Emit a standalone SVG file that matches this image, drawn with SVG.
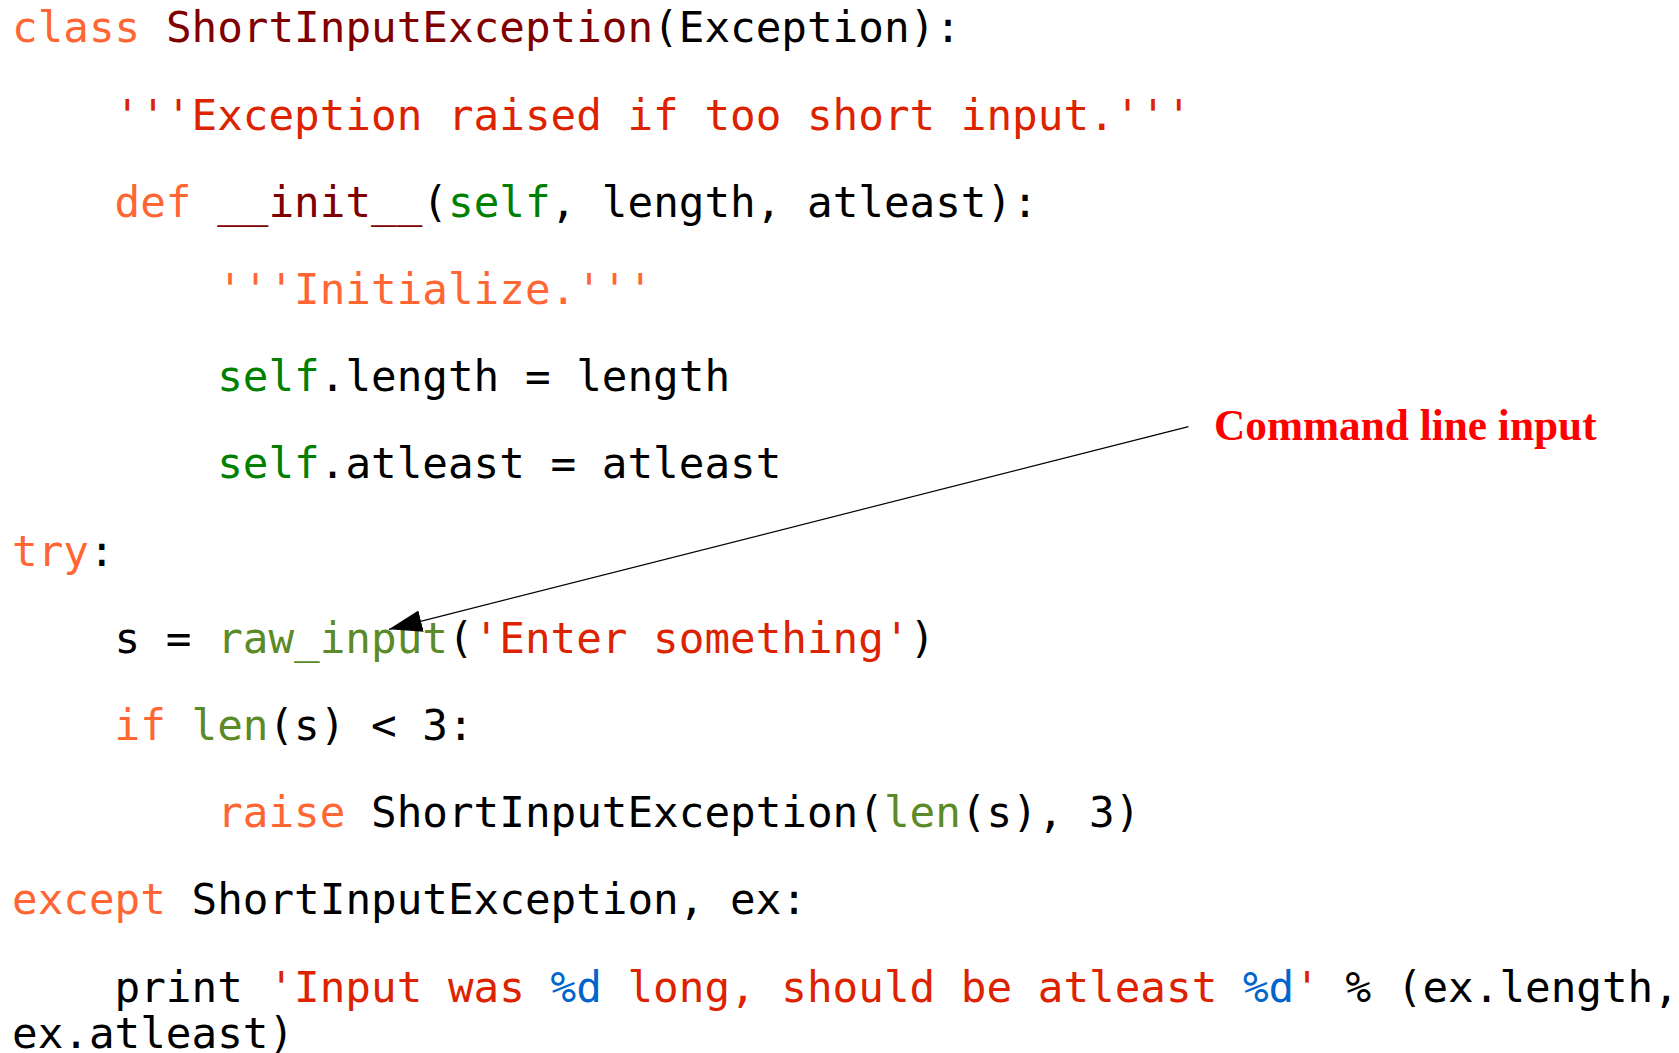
<svg xmlns="http://www.w3.org/2000/svg" width="1679" height="1053" viewBox="0 0 1679 1053">
<style>
.code{font-family:"DejaVu Sans Mono",monospace;font-size:42.6px;fill:#000;white-space:pre}
.kw{fill:#ff6633}
.cls{fill:#800000}
.str{fill:#dd2200}
.self{fill:#008000}
.fn{fill:#5b8a27}
.fmt{fill:#0066cc}
.label{font-family:"Liberation Serif",serif;font-weight:bold;font-size:43.3px;fill:#ff0000}
</style>
<defs>
<marker id="ah" viewBox="0 0 33 22" refX="33" refY="11" markerWidth="33" markerHeight="22" markerUnits="userSpaceOnUse" orient="auto">
<path d="M0,0 L33,11 L0,22 z" fill="#000"/>
</marker>
</defs>
<rect width="1679" height="1053" fill="#fff"/>
<g id="code">
<text class="code" xml:space="preserve" x="12" y="42.3"><tspan class="kw">class</tspan> <tspan class="cls">ShortInputException</tspan>(Exception):</text>
<text class="code" xml:space="preserve" x="12" y="129.5">    <tspan class="str">'''Exception raised if too short input.'''</tspan></text>
<text class="code" xml:space="preserve" x="12" y="216.7">    <tspan class="kw">def</tspan> <tspan class="cls">__init__</tspan>(<tspan class="self">self</tspan>, length, atleast):</text>
<text class="code" xml:space="preserve" x="12" y="303.9">        <tspan class="kw">'''Initialize.'''</tspan></text>
<text class="code" xml:space="preserve" x="12" y="391.1">        <tspan class="self">self</tspan>.length = length</text>
<text class="code" xml:space="preserve" x="12" y="478.3">        <tspan class="self">self</tspan>.atleast = atleast</text>
<text class="code" xml:space="preserve" x="12" y="565.5"><tspan class="kw">try</tspan>:</text>
<text class="code" xml:space="preserve" x="12" y="652.7">    s = <tspan class="fn">raw_input</tspan>(<tspan class="str">'Enter something'</tspan>)</text>
<text class="code" xml:space="preserve" x="12" y="739.9">    <tspan class="kw">if</tspan> <tspan class="fn">len</tspan>(s) &lt; 3:</text>
<text class="code" xml:space="preserve" x="12" y="827.1">        <tspan class="kw">raise</tspan> ShortInputException(<tspan class="fn">len</tspan>(s), 3)</text>
<text class="code" xml:space="preserve" x="12" y="914.3"><tspan class="kw">except</tspan> ShortInputException, ex:</text>
<text class="code" xml:space="preserve" x="12" y="1001.5">    print <tspan class="str">'Input was </tspan><tspan class="fmt">%d</tspan><tspan class="str"> long, should be atleast </tspan><tspan class="fmt">%d</tspan><tspan class="str">'</tspan> % (ex.length,</text>
<text class="code" xml:space="preserve" x="12" y="1048">ex.atleast)</text>
</g>
<g id="annotation">
<text class="label" x="1214" y="440">Command line input</text>
</g>
<g id="connectors">
<line x1="1188.5" y1="426.7" x2="389" y2="629.3" stroke="#000" stroke-width="1.2" marker-end="url(#ah)"/>
</g>
</svg>
